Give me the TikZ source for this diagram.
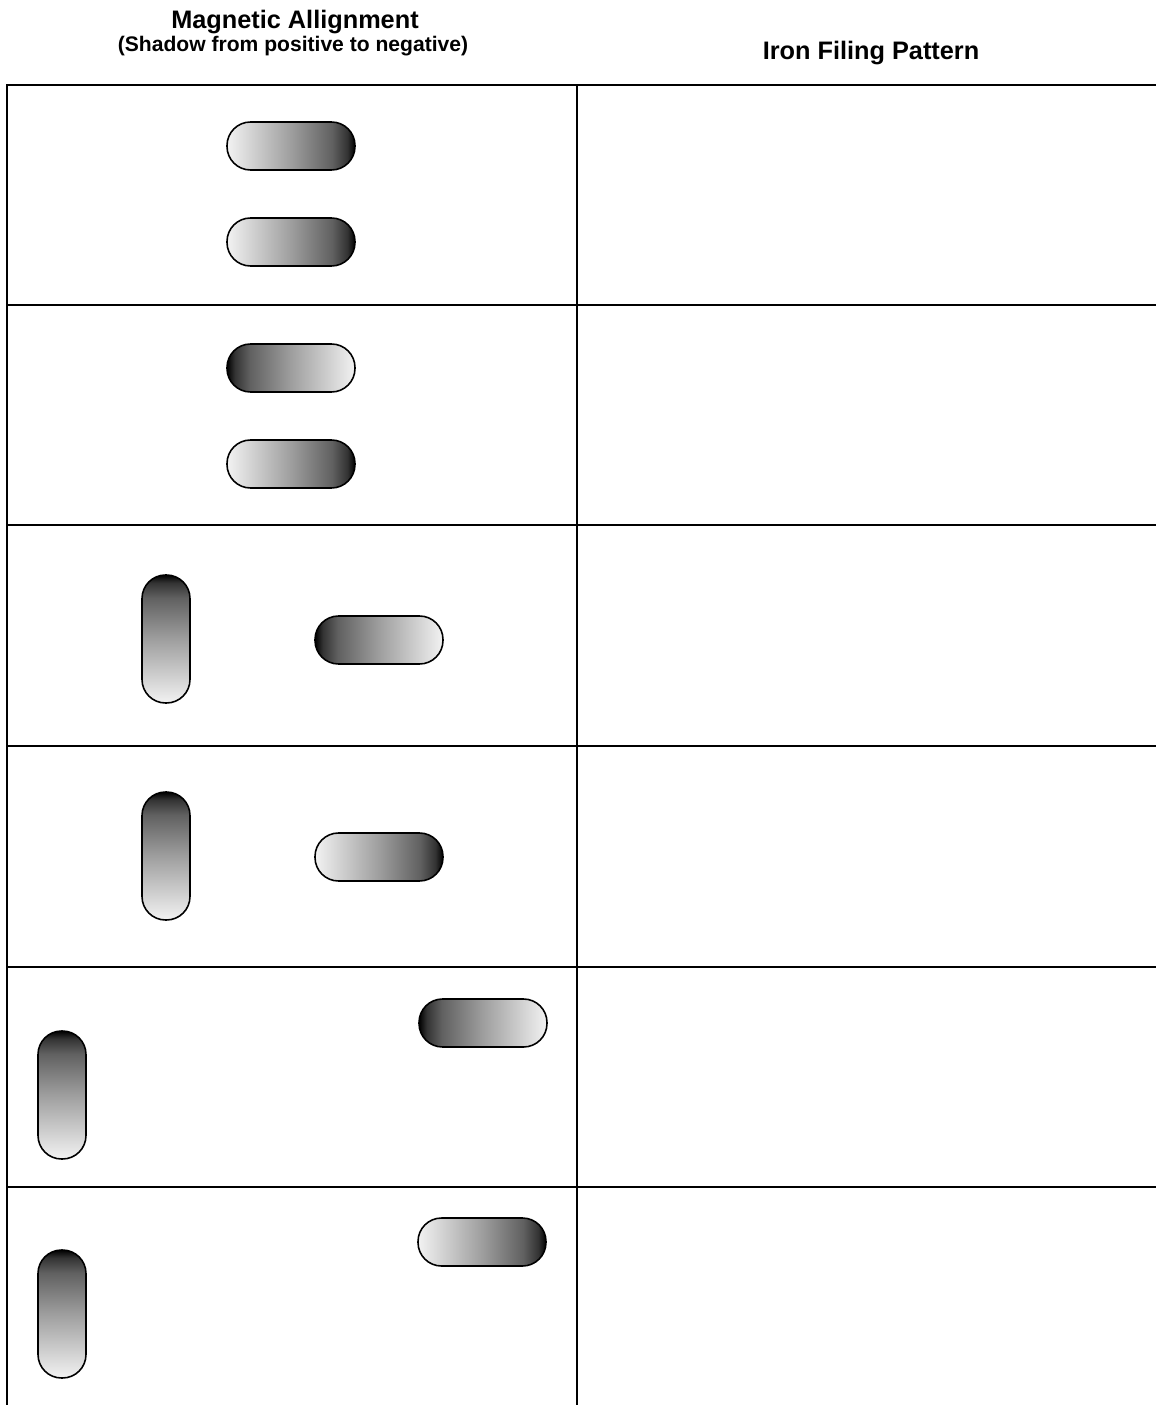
\documentclass[tikz,border=0pt]{standalone}
\usepackage{fontspec}
\setmainfont{Liberation Sans}
\usepackage{tikz}
\usetikzlibrary{positioning}
\pgfdeclarehorizontalshading{magshade}{100bp}{color(0bp)=(black!5); color(25bp)=(black!5); color(50bp)=(black!38); color(66bp)=(black!62); color(72bp)=(black!80); color(75bp)=(black); color(100bp)=(black)}
\tikzset{
  magnet/.style={draw=black,line width=0.9pt,rounded corners=0.47cm,inner sep=0pt,shade,shading=magshade},
  lightdark/.style={magnet,minimum width=2.56cm,minimum height=0.96cm,shading angle=0},
  darklight/.style={magnet,minimum width=2.56cm,minimum height=0.96cm,shading angle=180},
  darktop/.style={magnet,minimum width=0.96cm,minimum height=2.56cm,shading angle=90},
  rule/.style={line width=1.2pt},
  headtxt/.style={font=\bfseries\fontsize{14.4}{17}\selectfont}
}

\begin{document}
\begin{tikzpicture}[x=0.02cm,y=-0.02cm]
\useasboundingbox (0,0) rectangle (1156,1405);
% headings
\node[headtxt] (hmag) at (295,22) {Magnetic Allignment};
\node[font=\bfseries\fontsize{12}{14}\selectfont] (hsub) at (293,46) {(Shadow from positive to negative)};
\node[headtxt] (hiron) at (871,53) {Iron Filing Pattern};
% table
\foreach \yy in {85,305,525,746,967,1187}{ \draw[rule] (6,\yy)--(1156,\yy); }
\draw[line width=1.6pt] (7,85)--(7,1405);
\draw[rule] (577,85)--(577,1405);
% row 1
\node[lightdark] (r1a) at (291,146) {};
\node[lightdark] (r1b) at (291,242) {};
% row 2
\node[darklight] (r2a) at (291,368) {};
\node[lightdark] (r2b) at (291,464) {};
% row 3
\node[darktop] (r3v) at (166,639) {};
\node[darklight] (r3h) at (379,640) {};
% row 4
\node[darktop] (r4v) at (166,856) {};
\node[lightdark] (r4h) at (379,857) {};
% row 5
\node[darklight] (r5h) at (483,1023) {};
\node[darktop] (r5v) at (62,1095) {};
% row 6
\node[lightdark] (r6h) at (482,1242) {};
\node[darktop] (r6v) at (62,1314) {};
\end{tikzpicture}
\end{document}
